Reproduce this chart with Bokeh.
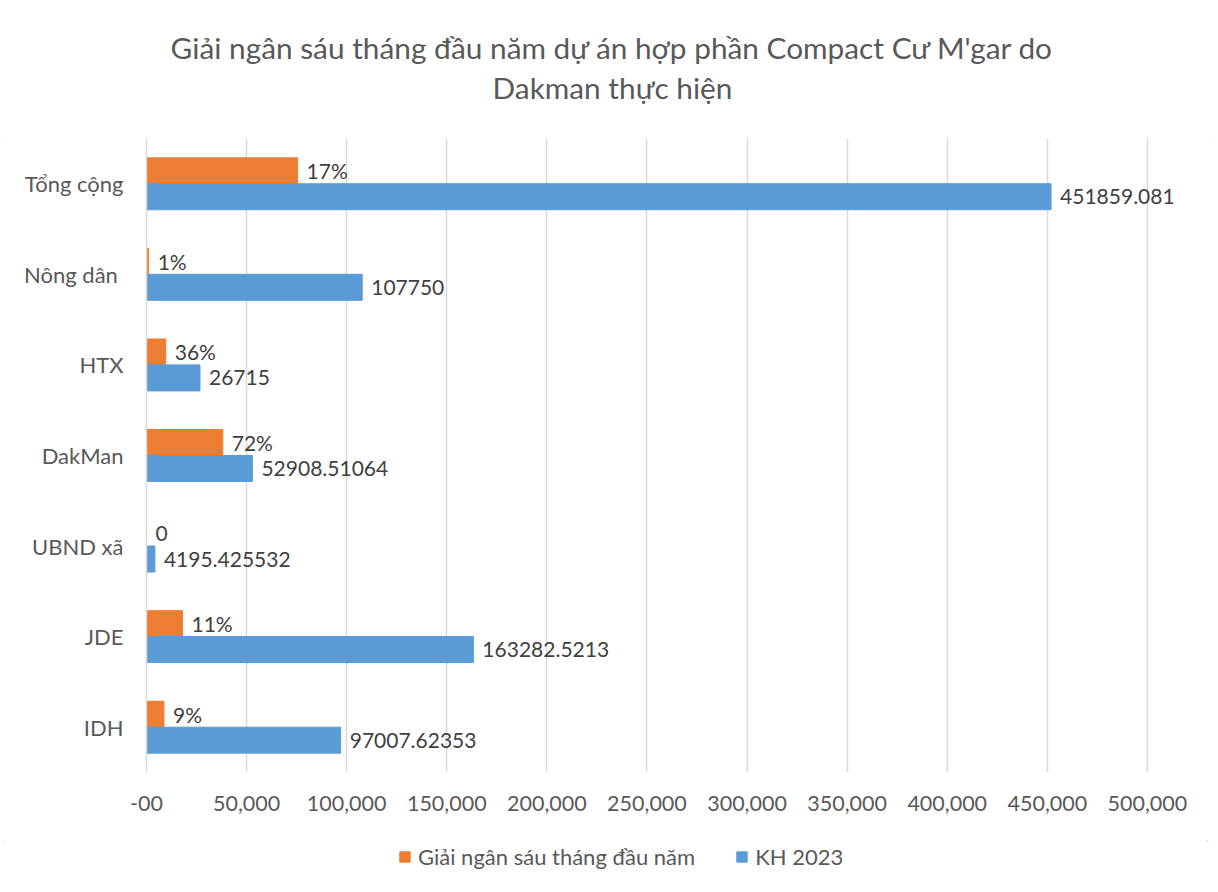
from bokeh.plotting import figure
from bokeh.models import ColumnDataSource, Range1d, FixedTicker, Legend, LegendItem
from bokeh.layouts import column
from bokeh.transform import dodge
from bokeh.core.properties import value
from bokeh.embed import file_html
from bokeh.resources import INLINE

categories = ["Tổng cộng", "Nông dân ", "HTX", "DakMan", "UBND xã", "JDE", "IDH"]
disbursed = [75479, 1080, 9620, 38090, 0, 17960, 8730]
disbursed_labels = ["17%", "1%", "36%", "72%", "0", "11%", "9%"]
plan_2023 = [451859.081, 107750, 26715, 52908.51064, 4195.425532, 163282.5213, 97007.62353]
plan_labels = ["451859.081", "107750", "26715", "52908.51064", "4195.425532", "163282.5213", "97007.62353"]
x_ticks = [0, 50000, 100000, 150000, 200000, 250000, 300000, 350000, 400000, 450000, 500000]
x_tick_labels = ["-00", "50,000", "100,000", "150,000", "200,000", "250,000", "300,000",
                 "350,000", "400,000", "450,000", "500,000"]
series_names = ["Giải ngân sáu tháng đầu năm", "KH 2023"]
title_lines = ["Giải ngân sáu tháng đầu năm dự án hợp phần Compact Cư M'gar do", "Dakman thực hiện"]

FONT = "Lato"
TXT = "#595959"
ORANGE = "#ED7D31"
BLUE = "#5B9BD5"

# ---- title strip (page pixel coordinates) ----
tf = figure(width=1218, height=138, x_range=Range1d(146, 1207), y_range=Range1d(0, 138),
            x_axis_type=None, y_axis_type=None, output_backend="svg", toolbar_location=None,
            min_border_left=146, min_border_right=11, min_border_top=0, min_border_bottom=0)
tf.grid.visible = False
tf.outline_line_color = None
tf.text(x=[612, 612], y=[91, 51], text=title_lines, text_align="center", text_baseline="middle",
        text_font=value(FONT), text_font_size="29.8px", text_color=TXT)

# ---- main chart ----
src = ColumnDataSource(dict(cat=categories, orange=disbursed, olab=disbursed_labels,
                            blue=plan_2023, blab=plan_labels))

p = figure(width=1218, height=702, y_range=list(reversed(categories)),
           x_range=Range1d(0, 530000), output_backend="svg", toolbar_location=None,
           min_border_left=146, min_border_right=11, min_border_top=0, min_border_bottom=68)

off = 0.143
bh = 0.287
p.hbar(y=dodge("cat", off, range=p.y_range), right="orange", left=0, height=bh,
       source=src, color=ORANGE)
p.hbar(y=dodge("cat", -off, range=p.y_range), right="blue", left=0, height=bh,
       source=src, color=BLUE)

p.text(x="orange", y=dodge("cat", off, range=p.y_range), text="olab", source=src,
       x_offset=9, text_baseline="middle", text_font_size="21px", text_color="#404040",
       text_font=value(FONT))
p.text(x="blue", y=dodge("cat", -off, range=p.y_range), text="blab", source=src,
       x_offset=9, text_baseline="middle", text_font_size="21px", text_color="#404040",
       text_font=value(FONT))

p.xaxis.ticker = FixedTicker(ticks=x_ticks)
p.xaxis.major_label_overrides = {t: l for t, l in zip(x_ticks, x_tick_labels)}
p.xaxis.axis_line_color = None
p.xaxis.major_tick_line_color = None
p.xaxis.minor_tick_line_color = None
p.xaxis.major_label_text_font = FONT
p.xaxis.major_label_text_font_size = "21.5px"
p.xaxis.major_label_text_color = TXT
p.xaxis.major_label_standoff = 17

p.yaxis.axis_line_color = "#d9d9d9"
p.yaxis.axis_line_width = 1.5
p.yaxis.major_tick_line_color = None
p.yaxis.minor_tick_line_color = None
p.yaxis.major_label_text_font = FONT
p.yaxis.major_label_text_font_size = "22px"
p.yaxis.major_label_text_color = TXT
p.yaxis.major_label_standoff = 17

p.xgrid.grid_line_color = "#d9d9d9"
p.xgrid.grid_line_width = 1.5
p.ygrid.grid_line_color = None
p.outline_line_color = None
p.y_range.range_padding = 0

# ---- legend strip ----
lf = figure(width=1218, height=52, x_range=Range1d(0, 1), y_range=Range1d(0, 1),
            x_axis_type=None, y_axis_type=None, output_backend="svg", toolbar_location=None,
            min_border_left=146, min_border_right=11, min_border_top=0, min_border_bottom=0)
lf.grid.visible = False
lf.outline_line_color = None
e1 = lf.hbar(y=[5], right=[5], left=[4], height=0.1, color=ORANGE)
e2 = lf.hbar(y=[5], right=[5], left=[4], height=0.1, color=BLUE)
legend = Legend(items=[LegendItem(label=series_names[0], renderers=[e1]),
                       LegendItem(label=series_names[1], renderers=[e2])],
                orientation="horizontal", location=(252, 22))
legend.label_text_font = FONT
legend.label_text_font_size = "22px"
legend.label_text_color = TXT
legend.glyph_width = 13
legend.glyph_height = 13
legend.label_standoff = 7
legend.spacing = 40
legend.padding = 0
legend.margin = 0
legend.border_line_color = None
legend.background_fill_alpha = 0
lf.add_layout(legend, "center")

layout = column(tf, p, lf, spacing=0,
                styles={"outline": "1.5px solid #d9d9d9", "outline-offset": "-5px"})
open("out.html", "w").write(file_html(layout, INLINE))
